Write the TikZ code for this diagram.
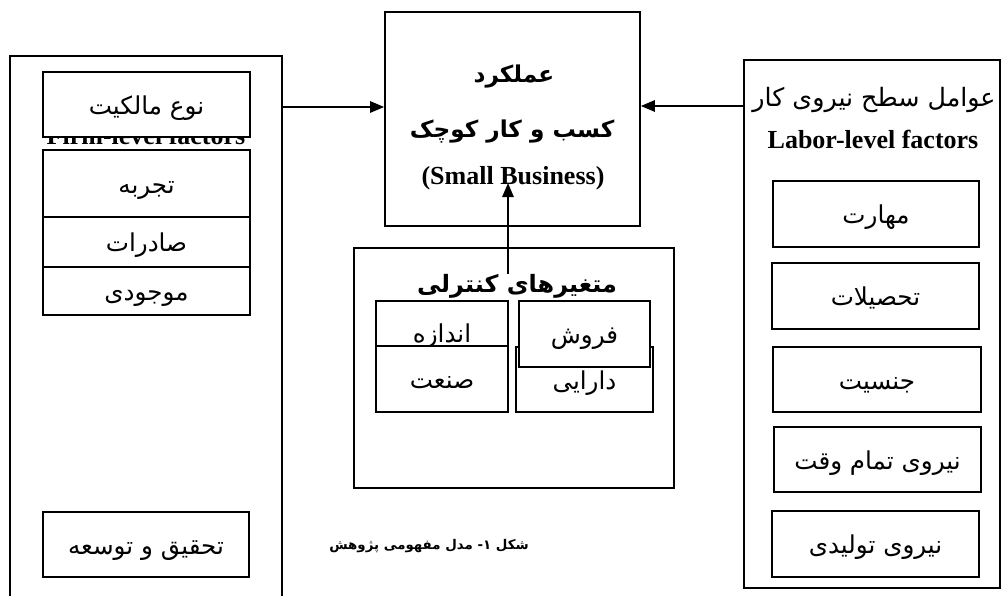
\documentclass[tikz,border=0pt]{standalone}
\usepackage{fontspec}
\setmainfont{Liberation Serif}
\newfontfamily\farsifont[Script=Arabic]{DejaVu Sans}
\usetikzlibrary{arrows.meta,fit}
\TeXXeTstate=1
\newcommand{\fatext}[1]{{\farsifont\beginR #1\endR}}

\begin{document}
\begin{tikzpicture}[x=0.025cm, y=-0.025cm]
  \tikzset{
    frame/.style={draw, line width=1.1pt, inner sep=0pt},
    box/.style={draw, line width=1.1pt, fill=white, inner sep=0pt,
      text height=14pt, text depth=0pt, font=\fontsize{17.5}{19}\selectfont},
    entitle/.style={inner sep=0pt, font=\fontsize{18.5}{20}\selectfont\bfseries},
    fatitle/.style={inner sep=0pt, font=\fontsize{18}{20}\selectfont},
    fabold/.style={inner sep=0pt, font=\fontsize{16.5}{18}\selectfont\bfseries},
    arr/.style={line width=1.5pt, -{Triangle[length=10pt,width=8pt]}}
  }
  \useasboundingbox (0,0) rectangle (1002,596);

  % firm level
  \node[frame, fit={(10,56) (282,620)}] (firm) {};
  \node[entitle, anchor=base] (firmtitle) at (146,145) {Firm-level factors};
  \node[box, minimum width=5.175cm, minimum height=1.625cm] (own) at (146.5,104.5) {\fatext{نوع مالکیت}};
  \node[box, minimum width=5.175cm, minimum height=1.675cm] (exp) at (146.5,183.5) {\fatext{تجربه}};
  \node[box, minimum width=5.175cm, minimum height=1.25cm] (export) at (146.5,242) {\fatext{صادرات}};
  \node[box, minimum width=5.175cm, minimum height=1.2cm] (stock) at (146.5,291) {\fatext{موجودی}};
  \node[box, minimum width=5.15cm, minimum height=1.625cm] (rnd) at (146,544.5) {\fatext{تحقیق و توسعه}};

  % performance
  \node[frame, minimum width=6.375cm, minimum height=5.35cm] (perf) at (512.5,119) {};
  \node[fabold] (perf1) at (514,77) {\fatext{عملکرد}};
  \node[fabold] (perf2) at (512,132) {\fatext{کسب و کار کوچک}};
  \node[entitle] (perf3) at (513,178) {(Small Business)};

  % control variables
  \node[frame, minimum width=8cm, minimum height=6cm] (ctl) at (514,368) {};
  \node[fabold, font=\fontsize{17}{19}\selectfont\bfseries] (ctitle) at (517,286) {\fatext{متغیرهای کنترلی}};
  \node[box, minimum width=3.3cm, minimum height=1.575cm] (size) at (442,332.5) {\fatext{اندازه}};
  \node[box, minimum width=3.3cm, minimum height=1.65cm] (ind) at (442,379) {\fatext{صنعت}};
  \node[box, minimum width=3.425cm, minimum height=1.625cm] (assets) at (584.5,379.5) {\fatext{دارایی}};
  \node[box, minimum width=3.275cm, minimum height=1.65cm] (sales) at (584.5,334) {\fatext{فروش}};
  \coordinate (tip) at (508,183);

  % labor level
  \node[frame, fit={(744,60) (1000,588)}] (labor) {};
  \node[fatitle] (labfa) at (874,100) {\fatext{عوامل سطح نیروی کار}};
  \node[entitle, anchor=base] (laben) at (873,149) {Labor-level factors};
  \node[box, minimum width=5.15cm, minimum height=1.65cm] (skill) at (876,214) {\fatext{مهارت}};
  \node[box, minimum width=5.175cm, minimum height=1.65cm] (edu) at (875.5,296) {\fatext{تحصیلات}};
  \node[box, minimum width=5.2cm, minimum height=1.625cm] (gender) at (877,379.5) {\fatext{جنسیت}};
  \node[box, minimum width=5.175cm, minimum height=1.625cm] (full) at (877.5,459.5) {\fatext{نیروی تمام وقت}};
  \node[box, minimum width=5.175cm, minimum height=1.65cm] (prodn) at (875.5,544) {\fatext{نیروی تولیدی}};

  \node[inner sep=0pt, font=\fontsize{9.5}{11}\selectfont\bfseries] (caption) at (429,546) {\fatext{شکل ۱- مدل مفهومی پژوهش}};

  \draw[arr] (firm.east |- 0,107) -- (perf.west |- 0,107);
  \draw[arr] (labor.west |- 0,106) -- (perf.east |- 0,106);
  \draw[arr] (ctitle.north -| tip) -- (tip);
\end{tikzpicture}
\end{document}
